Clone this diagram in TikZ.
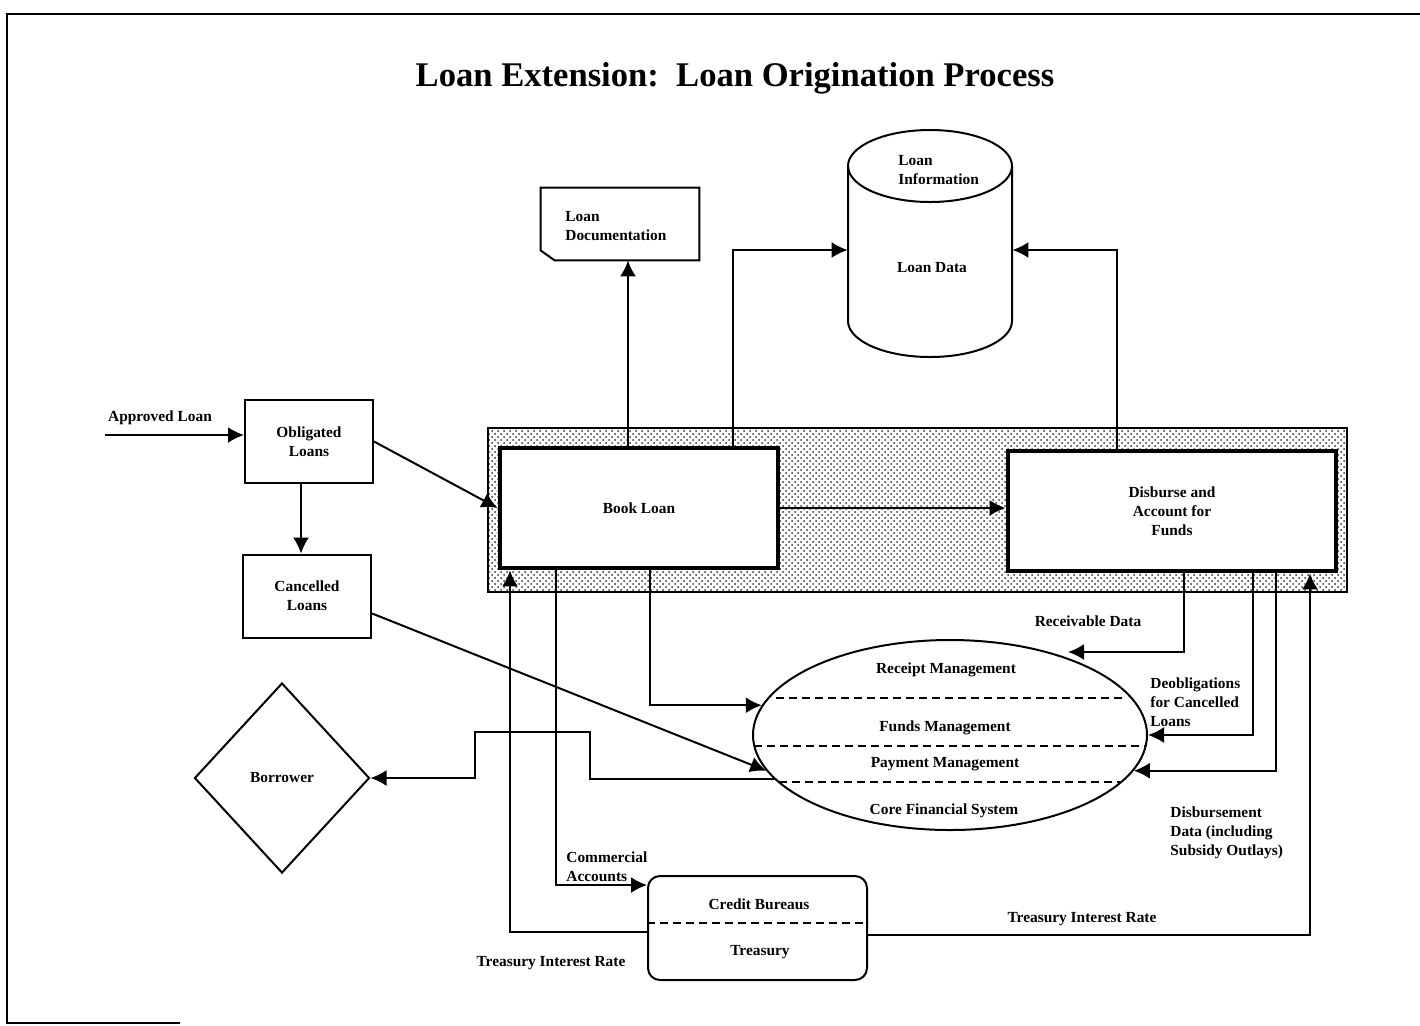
\documentclass[tikz,border=0pt]{standalone}
\usepackage{fontspec}
\setmainfont{Liberation Serif}
\usetikzlibrary{arrows.meta,shapes.geometric,patterns}
\begin{document}
\begin{tikzpicture}[x=0.5pt,y=-0.5pt]
    \tikzset{>={Latex[length=8pt,width=8pt]}}
    \tikzset{
        lbl/.style={font=\fontsize{7.7}{9.5}\selectfont\bfseries, inner sep=0pt},
        box/.style={lbl, draw, line width=1pt, minimum width=64pt, minimum height=41.5pt, align=center},
        bigbox/.style={lbl, draw, line width=2.4pt, fill=white, minimum height=60pt, align=center},
        flow/.style={->, line width=1pt},
        split/.style={line width=1pt, dash pattern=on 4pt off 2.5pt}
    }
    \useasboundingbox (0,0) rectangle (1420,1025);
    \draw[line width=1pt] (180,1023) -- (7,1023) -- (7,14) -- (1420,14);
    \node[lbl] (title) at (735,78) {\fontsize{17.3}{20}\selectfont Loan Extension:\ \ Loan Origination Process};
    \coordinate (apin) at (105,435);
    \coordinate (xcan) at (301,0);
    \coordinate (xtr) at (510,0);
    \coordinate (xcom) at (556,0);
    \coordinate (xdoc) at (628,0);
    \coordinate (xcfs) at (650,0);
    \coordinate (xdb) at (733,0);
    \coordinate (xinfo) at (1117,0);
    \coordinate (xrcv) at (1184,0);
    \coordinate (xdeo) at (1253,0);
    \coordinate (xdsb) at (1276,0);
    \coordinate (xtir) at (1310,0);
    \coordinate (rcvend) at (1068,652);
    \node[box] (obl) at (309,441.5) {Obligated\\Loans};
    \node[box] (canc) at (307,596) {Cancelled\\Loans};
    \node[lbl] (appr) at (160,418) {Approved Loan};
    \fill[pattern=crosshatch dots, pattern color=black!80] (488,428) rectangle (1347,592);
    \draw[line width=0.8pt] (488,428) rectangle (1347,592);
    \node[bigbox, minimum width=139pt] (book) at (639,508) {Book Loan};
    \node[bigbox, minimum width=164pt] (disb) at (1172,511) {Disburse and\\Account for\\Funds};
    \node[lbl, minimum width=79pt, minimum height=36pt] (doc) at (620,224) {};
    \draw[line width=1pt] (doc.north west) -- (doc.north east) -- (doc.south east) -- ([xshift=7pt]doc.south west) -- ([yshift=5pt]doc.south west) -- cycle;
    \fill ([yshift=5pt]doc.south west) -- ([xshift=7pt]doc.south west) -- ([xshift=5pt,yshift=2pt]doc.south west) -- cycle;
    \node[lbl, align=left, anchor=west] (doctxt) at (565,226) {Loan\\Documentation};
    \node[inner sep=0pt, minimum width=82pt, minimum height=100pt] (db) at (930,250) {};
    \draw[line width=1pt] (930,166) ellipse [x radius=82, y radius=36];
    \draw[line width=1pt] (848,166) -- (848,321) arc [start angle=180, end angle=0, x radius=82, y radius=36] -- (1012,166);
    \node[lbl, align=left, anchor=west] (dbinfo) at (898,170) {Loan\\Information};
    \node[lbl] (dbdata) at (932,268) {Loan Data};
    \node[draw, ellipse, line width=1pt, minimum width=197pt, minimum height=95pt, inner sep=0pt] (fin) at (950,735) {};
    \draw[split] (776,698) -- (1125,698);
    \draw[split] (754,746) -- (1146,746);
    \draw[split] (779,782) -- (1121,782);
    \node[lbl] (rcpt) at (946,670) {Receipt Management};
    \node[lbl] (fnds) at (945,728) {Funds Management};
    \node[lbl] (pymt) at (945,764) {Payment Management};
    \node[lbl] (core) at (944,811) {Core Financial System};
    \node[lbl, draw, diamond, line width=1pt, minimum width=87.5pt, minimum height=95pt] (borr) at (282,778) {Borrower};
    \node[draw, rounded corners=6pt, line width=1pt, minimum width=109.5pt, minimum height=52pt] (treas) at (757.5,928) {};
    \draw[split] ([yshift=2.5pt]treas.west) -- ([yshift=2.5pt]treas.east);
    \node[lbl] (cb) at (759,904) {Credit Bureaus};
    \node[lbl] (trs) at (760,952) {Treasury};
    \draw[flow] (apin) -- (apin -| obl.west);
    \draw[flow] (obl.south -| xcan) -- (canc.north -| xcan);
    \draw[flow] (obl.east) -- (book.west);
    \draw[flow] (canc.-15) -- (fin.191);
    \draw[flow] (book.north -| xdoc) -- (doc.south -| xdoc);
    \draw[flow] (book.north -| xdb) |- (db.west);
    \draw[flow] (disb.north -| xinfo) |- (db.east);
    \draw[flow] (book.east) -- (book.east -| disb.west);
    \draw[flow] (book.south -| xcfs) |- (fin.171.9);
    \draw[flow] (book.south -| xcom) |- ([yshift=-5pt]treas.north west);
    \draw[flow] ([yshift=-2pt]treas.west) -| (book.south -| xtr);
    \draw[flow] ([yshift=-3.5pt]treas.east) -| (disb.south -| xtir);
    \draw[flow] (fin.194.5) -| (590,732) -- (475,732) |- (borr.east);
    \draw[flow] (disb.south -| xrcv) |- (rcvend);
    \draw[flow] (disb.south -| xdeo) |- (fin.east);
    \draw[flow] (disb.south -| xdsb) |- (fin.-11.5);
    \node[lbl, align=left, anchor=west] (comm) at (566,867) {Commercial\\Accounts};
    \node[lbl] (tirl) at (551,963) {Treasury Interest Rate};
    \node[lbl] (tirr) at (1082,919) {Treasury Interest Rate};
    \node[lbl] (rcvl) at (1088,621) {Receivable Data};
    \node[lbl, align=left, anchor=west] (deol) at (1150,702) {Deobligations\\for Cancelled\\Loans};
    \node[lbl, align=left, anchor=west] (dsbl) at (1170,833) {Disbursement\\Data (including\\Subsidy Outlays)};
\end{tikzpicture}
\end{document}
